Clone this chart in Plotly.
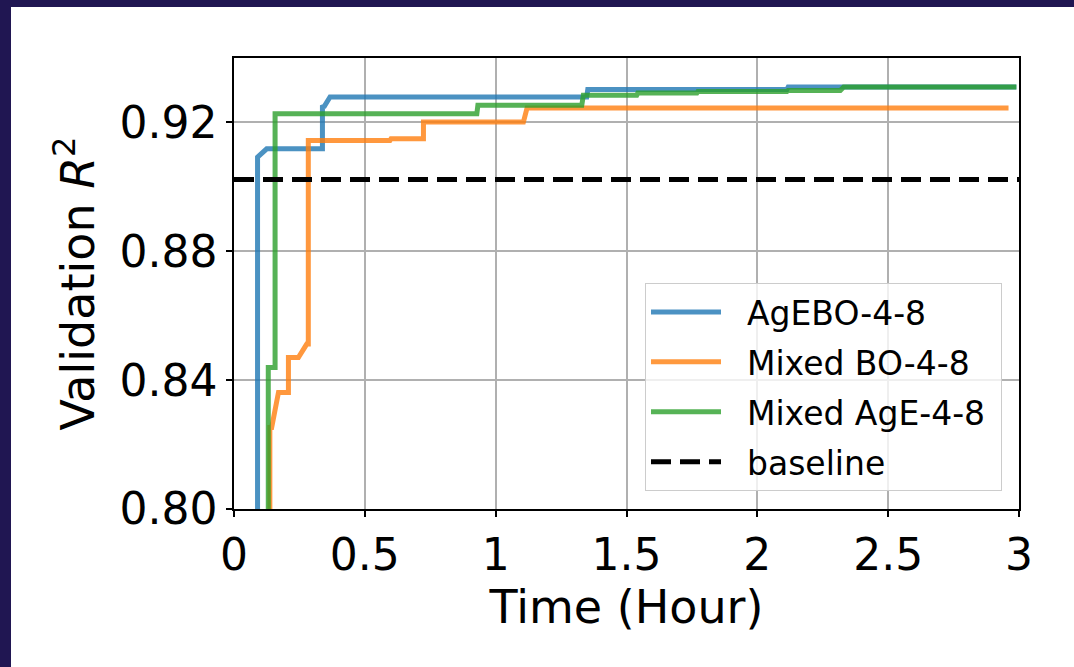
import plotly.graph_objects as go

# ---- data ----
agebo_x = [0.090, 0.090, 0.125, 0.338, 0.338, 0.345, 0.367, 1.348, 1.352, 2.113, 2.118, 2.99]
agebo_y = [0.70, 0.9092, 0.9118, 0.9118, 0.9248, 0.9250, 0.9279, 0.9279, 0.9302, 0.9302, 0.9310, 0.9310]

mixbo_x = [0.137, 0.137, 0.144, 0.170, 0.208, 0.208, 0.246, 0.278, 0.284, 0.284,
           0.596, 0.600, 0.724, 0.724, 1.106, 1.120, 2.96]
mixbo_y = [0.70, 0.8253, 0.8253, 0.8362, 0.8362, 0.8470, 0.8470, 0.8512, 0.8512, 0.9144,
           0.9144, 0.9149, 0.9149, 0.9201, 0.9201, 0.9245, 0.9245]

mixage_x = [0.131, 0.131, 0.157, 0.157, 0.928, 0.932, 1.329, 1.335, 1.539, 1.543,
            1.769, 1.773, 2.113, 2.117, 2.317, 2.330, 2.99]
mixage_y = [0.70, 0.8439, 0.8439, 0.9227, 0.9227, 0.9253, 0.9253, 0.9284, 0.9284, 0.9291,
            0.9291, 0.9296, 0.9296, 0.9299, 0.9299, 0.9310, 0.9310]

baseline_value = 0.9023
baseline_x = [0.0, 3.0]

x_ticks = [0, 0.5, 1, 1.5, 2, 2.5, 3]
x_tick_labels = ["0", "0.5", "1", "1.5", "2", "2.5", "3"]
y_ticks = [0.80, 0.84, 0.88, 0.92]
y_tick_labels = ["0.80", "0.84", "0.88", "0.92"]

series = [
    ("AgEBO-4-8", agebo_x, agebo_y, "#1f77b4"),
    ("Mixed BO-4-8", mixbo_x, mixbo_y, "#ff7f0e"),
    ("Mixed AgE-4-8", mixage_x, mixage_y, "#2ca02c"),
]

FONT = "DejaVu Sans"
PAD = "\u00a0\u00a0"
fig = go.Figure()
for i, (name, xs, ys, col) in enumerate(series):
    fig.add_trace(go.Scatter(x=xs, y=ys, mode="lines", name=PAD + name + "\u00a0",
                             legendgroup="g%d" % i,
                             line=dict(color=col, width=5), opacity=0.8))
fig.add_trace(go.Scatter(x=baseline_x, y=[baseline_value] * len(baseline_x), mode="lines",
                         name=PAD + "baseline", legendgroup="g3",
                         line=dict(color="black", width=5, dash="20px,9px")))

W, H = 1074, 667
L, R, T, B = 234, 55, 58, 158
pw, ph = W - L - R, H - T - B

def px2paper_x(px):
    return (px - L) / pw

def py2paper_y(py):
    return (H - B - py) / ph

# dark frame at top and left of the picture
frame_col = "#201652"
shapes = [
    dict(type="rect", xref="paper", yref="paper", layer="above",
         x0=px2paper_x(0), x1=px2paper_x(W), y0=py2paper_y(7), y1=py2paper_y(0),
         fillcolor=frame_col, line=dict(width=0)),
    dict(type="rect", xref="paper", yref="paper", layer="above",
         x0=px2paper_x(0), x1=px2paper_x(11), y0=py2paper_y(H), y1=py2paper_y(0),
         fillcolor=frame_col, line=dict(width=0)),
]

fig.update_layout(
    width=W, height=H,
    margin=dict(l=L, r=R, t=T, b=B),
    paper_bgcolor="white", plot_bgcolor="white",
    font=dict(family=FONT, color="black", size=44),
    showlegend=True,
    legend=dict(x=px2paper_x(1002), y=py2paper_y(491), xanchor="right", yanchor="bottom",
                bgcolor="rgba(255,255,255,0.8)", bordercolor="#cccccc", borderwidth=1,
                font=dict(family=FONT, size=33), itemwidth=70,
                tracegroupgap=4),
    shapes=shapes,
)
fig.update_xaxes(range=[0, 3], tickvals=x_ticks, ticktext=x_tick_labels,
                 showgrid=True, gridcolor="#b0b0b0", gridwidth=1.5,
                 showline=True, linecolor="black", linewidth=1.5, mirror=True,
                 ticks="outside", ticklen=6, tickwidth=1.5, tickcolor="black",
                 zeroline=False, tickfont=dict(size=44),
                 title=dict(text="Time (Hour)", font=dict(size=46), standoff=6))
fig.update_yaxes(range=[0.80, 0.94], tickvals=y_ticks, ticktext=y_tick_labels,
                 showgrid=True, gridcolor="#b0b0b0", gridwidth=1.5,
                 showline=True, linecolor="black", linewidth=1.5, mirror=True,
                 ticks="outside", ticklen=6, tickwidth=1.5, tickcolor="black",
                 zeroline=False, tickfont=dict(size=44),
                 title=dict(text="Validation <i>R</i><sup>2</sup>", font=dict(size=46), standoff=10))

fig.write_html("out.html")
